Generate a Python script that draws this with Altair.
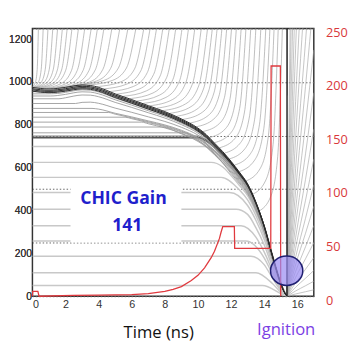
import altair as alt
import numpy as np
import pandas as pd

# ---------------- values ----------------
X_TICKS = [0, 2, 4, 6, 8, 10, 12, 14, 16]
Y_TICKS = [0, 200, 400, 600, 800, 1000, 1200]
P_TICKS = [0, 50, 100, 150, 200, 250]

# outer surface of the imploding shell (time ns, radius um)
SHELL_T = [0, 0.5, 1, 1.5, 2, 2.5, 3, 3.5, 4, 5, 6, 7, 8, 9, 10, 10.5, 11, 11.5,
           12, 12.5, 13, 13.5, 14, 14.5, 15, 15.2, 15.38]
SHELL_R = [975, 970, 968, 970, 975, 982, 986, 984, 975, 945, 918, 890, 862, 828,
           785, 755, 715, 675, 630, 580, 525, 440, 330, 190, 60, 22, 0]

# ablated plasma trajectories: time leaving the shell / time crossing the frame top
OUT_START = [0.00, 0.05, 0.10, 0.15, 0.20, 0.30, 0.40, 0.50, 0.70, 0.90,
             1.10, 1.40, 1.70, 2.10, 2.50, 2.90, 3.40, 3.90, 4.30, 4.70,
             5.10, 5.50, 5.90, 6.30, 6.70, 7.10, 7.50, 7.90, 8.30, 8.70,
             9.10, 9.50, 9.90, 10.30, 10.70, 11.00, 11.30, 11.60, 11.90, 12.20,
             12.50, 12.90, 13.30, 13.70]
OUT_TOP = [0.36, 0.65, 0.94, 1.23, 1.52, 1.81, 2.10, 2.39, 2.78, 3.16,
           3.55, 3.93, 4.32, 4.80, 5.28, 5.77, 6.25, 6.73, 7.11, 7.50,
           7.88, 8.27, 8.66, 9.04, 9.43, 9.81, 10.20, 10.58, 10.87, 11.16,
           11.45, 11.74, 12.03, 12.32, 12.61, 12.90, 13.19, 13.50, 13.80, 14.10,
           14.35, 14.60, 14.85, 15.10]

# ablator layers: initial radius, time hit by the shock, final fraction of shell radius
ABL_R = [965, 955, 945, 935, 922, 900, 877, 858, 836, 813, 790, 763, 749]
ABL_SHOCK = [0.2, 0.5, 0.8, 1.1, 1.6, 2.6, 3.6, 4.6, 5.6, 6.6, 7.8, 9.2, 10.0]
ABL_END = [0.995, 0.99, 0.985, 0.98, 0.975, 0.97, 0.96, 0.955, 0.95, 0.94, 0.93, 0.92, 0.91]

# dense shell lines (fraction of the outer surface radius)
BAND_F = [1.0, 0.994, 0.988, 0.982]

# fuel layers: radius and time they start to move
FUEL_R = [741, 699, 625, 555, 484, 406, 329, 258, 187, 110, 50]
FUEL_TURN = [10.4, 10.8, 11.2, 11.8, 12.3, 12.7, 13.0, 13.3, 13.6, 13.9, 14.3]

# after stagnation: radius reached at the right edge (17 ns)
STAG_T = 15.38
POST_R = [30, 70, 120, 180, 250, 330, 420, 520, 640, 780, 950, 1150, 1400,
          1700, 2100, 2600, 3300, 4200, 5500, 7500, 10000]

# laser power (TW, right axis)
RED_T = [0, 0.02, 0.33, 0.4, 2.5, 4, 6, 7, 8, 8.5, 9, 9.6, 10, 10.4, 10.8, 11.0,
         11.3, 11.4, 11.5, 12.2, 12.22, 14.4, 14.42, 14.98, 15.0]
RED_P = [0, 4.5, 4.5, 0, 0.8, 1.0, 1.6, 2.5, 4.5, 6.5, 9, 14.6, 19.5, 26.5, 36, 42,
         54, 60, 65, 65, 44.7, 44.7, 215, 215, 0]

# annotations
BOX = {"t0": [2.3], "t1": [9.0], "r0": [251], "r1": [529]}
ELLIPSE = {"t": [15.36], "r": [119]}
BOLD_TEXT = {"t": [5.5, 5.73], "r": [429, 306], "txt": ["CHIC Gain", "141"]}
PLAIN_TEXT = {"t": [7.63, 15.33], "r": [-197, -179], "txt": ["Time (ns)", "Ignition"],
              "col": ["#111111", "#7b3fe4"]}

assert len(OUT_START) == len(OUT_TOP)


def shell(t):
    return float(np.interp(t, SHELL_T, SHELL_R))


rows = []
gid = [0]


def add(pts, c, w):
    for k, (t, r) in enumerate(pts):
        rows.append(dict(id=gid[0], k=k, t=t, r=r, c=c, w=w))
    gid[0] += 1


# fuel
for r, tt in zip(FUEL_R, FUEL_TURN):
    k = r / shell(tt)
    pts = [(0, r), (tt - 0.4, r)]
    pts += [(t, shell(t) * k) for t in SHELL_T if t >= tt + 0.3]
    if r == 741:
        add(pts, "#555555", 2.2)
    else:
        add(pts, "#c8c8c8", 1.5)

# post stagnation
for R in POST_R:
    add([(STAG_T, 0), (15.5, 0.08 * R), (15.9, 0.35 * R), (16.5, 0.7 * R), (17, R)],
        "#ababab", 0.7)

# ablator
for r, ts, f in zip(ABL_R, ABL_SHOCK, ABL_END):
    rho = r / shell(ts)
    pts = [(0, r), (ts, r)]
    for t in SHELL_T:
        if t >= ts + 0.3:
            kk = min(1.0, (t - ts) / (12 - ts))
            pts.append((t, shell(t) * (rho + (f - rho) * kk)))
    add(pts, "#9a9a9a", 0.9)

# ablated plasma
for ts, tc in zip(OUT_START, OUT_TOP):
    r0 = shell(ts) + 2
    D = tc - ts
    H = 1250 - r0
    add([(ts, r0), (ts + 0.5 * D, r0 + 0.08 * H), (ts + 0.8 * D, r0 + 0.3 * H),
         (tc, 1250), (tc + 0.12 * D, 1250 + 0.6 * H)], "#a2a2a2", 0.7)

# dense shell
for f in BAND_F:
    add([(t, r * f) for t, r in zip(SHELL_T, SHELL_R)], "#2a2a2a", 1.0)

# stagnation vertical line
add([(STAG_T, 0), (STAG_T + 0.005, 1300)], "#222222", 1.5)

lines = pd.DataFrame(rows)
red = pd.DataFrame({"t": RED_T, "p": RED_P})

AXFONT = "Liberation Sans"
xscale = alt.Scale(domain=[0, 17], nice=False, zero=False)
yscale = alt.Scale(domain=[0, 1250], nice=False)
xaxis = alt.Axis(values=X_TICKS, format="d", title=None, labelFont=AXFONT, labelFontSize=11,
                 labelColor="#333333", tickSize=0, labelPadding=3, domain=False, grid=False)
yaxis = alt.Axis(values=Y_TICKS, format="d", title=None, labelFont=AXFONT, labelFontSize=10.5,
                 labelColor="#333333", tickSize=0, labelPadding=1, domain=False, grid=False)
X = lambda f: alt.X(f, scale=xscale, axis=xaxis)
Y = lambda f: alt.Y(f, scale=yscale, axis=yaxis)

gray = alt.Chart(lines).mark_line(clip=True, interpolate="monotone").encode(
    x=X("t:Q"), y=Y("r:Q"), detail="id:N", order="k:Q",
    color=alt.Color("c:N", scale=None),
    strokeWidth=alt.StrokeWidth("w:Q", scale=None),
)

box = alt.Chart(pd.DataFrame(BOX)).mark_rect(color="white").encode(
    x=X("t0:Q"), x2="t1:Q", y=Y("r0:Q"), y2="r1:Q")

ell = alt.Chart(pd.DataFrame(ELLIPSE)).mark_point(
    shape="M-1,0A1,0.91 0 1,0 1,0A1,0.91 0 1,0 -1,0Z", size=1089, filled=True,
    fill="#9a8cf2", fillOpacity=0.7, stroke="#1f1f70", strokeWidth=1.5, opacity=1,
).encode(x=X("t:Q"), y=Y("r:Q"))

bold = alt.Chart(pd.DataFrame(BOLD_TEXT)).mark_text(
    font="Open Sans", fontSize=18, fontWeight="bold", color="#1f1fcc", baseline="alphabetic",
).encode(x=X("t:Q"), y=Y("r:Q"), text="txt:N")

plain = alt.Chart(pd.DataFrame(PLAIN_TEXT)).mark_text(
    font="Open Sans", fontSize=17, baseline="alphabetic",
).encode(x=X("t:Q"), y=Y("r:Q"), text="txt:N", color=alt.Color("col:N", scale=None))

left_group = alt.layer(gray, box)

redline = alt.Chart(red).mark_line(color="#e0393e", strokeWidth=1.3).encode(
    x=X("t:Q"),
    y=alt.Y("p:Q", scale=alt.Scale(domain=[0, 250], nice=False),
            axis=alt.Axis(orient="right", values=P_TICKS, format="d", title=None, grid=True,
                          gridDash=[1.5, 2], gridColor="#666666", gridWidth=1,
                          labelColor="#d9383a", labelFont="Open Sans", labelFontSize=13,
                          labelPadding=12, tickSize=0, domain=False, labelOffset=4)),
)

top_group = alt.layer(ell, bold, plain)

chart = alt.layer(left_group, redline, top_group).resolve_scale(y="independent").properties(
    width=288, height=274,
    autosize=alt.AutoSizeParams(type="none"),
    padding={"left": 25, "top": 17, "right": 35, "bottom": 50},
).configure_view(stroke="#333333", strokeWidth=1.5)

chart.save("out.html", embed_options={"renderer": "svg", "actions": False})
